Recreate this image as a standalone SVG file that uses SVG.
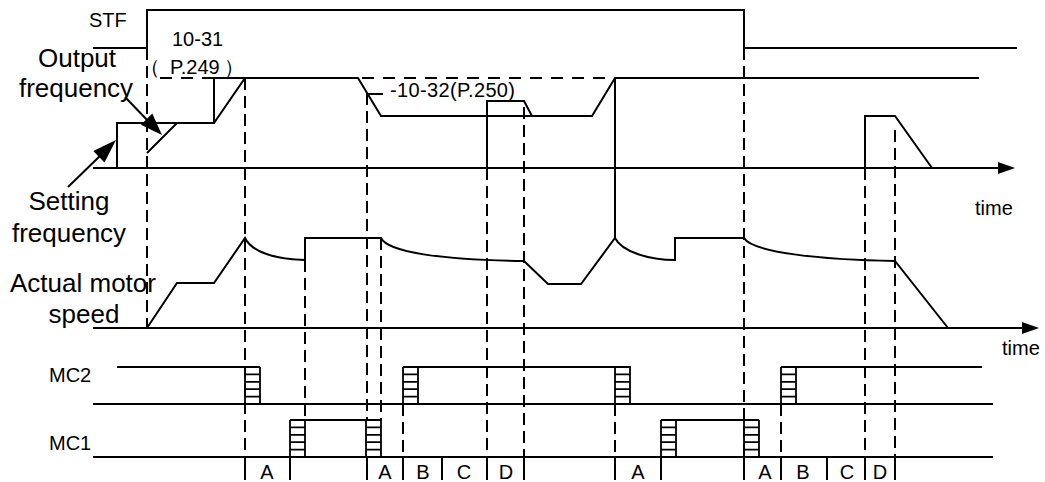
<svg xmlns="http://www.w3.org/2000/svg" xmlns:xlink="http://www.w3.org/1999/xlink" width="1045" height="482" viewBox="0 0 1045 482">
<style>
.ln{fill:none;stroke:#000;stroke-width:2;stroke-linejoin:miter}
.dv{fill:none;stroke:#000;stroke-width:2;stroke-dasharray:12,6}
.dh{fill:none;stroke:#000;stroke-width:2;stroke-dasharray:12,9}
.tk{fill:none;stroke:#000;stroke-width:2}
.hb{fill:none;stroke:#000;stroke-width:1.8}
.t{font-family:"Liberation Sans",Arial,sans-serif;fill:#000}
.big{font-size:26px;text-anchor:middle}
.mid{font-size:20px}
.lab{font-size:20px;text-anchor:middle}
</style>
<defs>
<g id="hatch">
<path class="hb" d="M0,0V37M15,0V37M0,0H15M0,7.4H15M0,14.8H15M0,22.2H15M0,29.6H15M0,37H15"/>
</g>
</defs>
<rect width="1045" height="482" fill="#fff"/>

<g id="labels">
<text class="t mid" x="89" y="27">STF</text>
<text class="t mid" x="172" y="46">10-31</text>
<text class="t mid" y="74" font-family="'Liberation Sans','Noto Sans CJK SC',sans-serif"><tspan x="140">（</tspan><tspan x="170">P.249</tspan><tspan x="224">）</tspan></text>
<text class="t mid" x="390" y="97" font-size="19" textLength="125">-10-32(P.250)</text>
<text class="t big" x="77" y="67">Output</text>
<text class="t big" x="76" y="97">frequency</text>
<text class="t big" x="69" y="210">Setting</text>
<text class="t big" x="69" y="242">frequency</text>
<text class="t big" x="83" y="292">Actual motor</text>
<text class="t big" x="84" y="323">speed</text>
<text class="t mid" x="975" y="215">time</text>
<text class="t mid" x="1002" y="355">time</text>
<text class="t mid" x="49" y="382">MC2</text>
<text class="t mid" x="49" y="450">MC1</text>
</g>

<g id="interval-labels">
<text class="t lab" x="267" y="479">A</text>
<text class="t lab" x="385" y="479">A</text>
<text class="t lab" x="423" y="479">B</text>
<text class="t lab" x="464" y="479">C</text>
<text class="t lab" x="506" y="479">D</text>
<text class="t lab" x="638" y="479">A</text>
<text class="t lab" x="765" y="479">A</text>
<text class="t lab" x="803" y="479">B</text>
<text class="t lab" x="847" y="479">C</text>
<text class="t lab" x="880" y="479">D</text>
</g>

<g id="stf">
<path class="ln" d="M93,48H147V10H744V48H1017"/>
</g>

<g id="axes">
<path class="ln" d="M93,168H1000"/>
<polygon points="1015,168 998,162 998,174" fill="#000"/>
<path class="ln" d="M93,328H1024"/>
<polygon points="1039,328 1022,322 1022,334" fill="#000"/>
</g>

<g id="frequency">
<path class="ln" d="M147,153L177,123L214,123L245,78L358,78L381,116L592,116L615,78L979,78"/>
<path class="ln" d="M117,168V123H214V78H358"/>
<path class="dh" d="M160,78H213"/>
<path class="dh" d="M362,78H613"/>
<path class="ln" d="M615,78V238"/>
<path class="ln" d="M487,168V101H524L532,116"/>
<path class="ln" d="M865,168V116H895L932,168"/>
<path class="tk" d="M368,94H383"/>
</g>

<g id="speed">
<path class="ln" d="M147,328L177,283L214,283L245,238C252,252 275,259 305,260L305,238L381,238C388,252 440,260 524,261L548,284L581,284L615,238C622,252 650,260 675,260L675,238L744,238C752,252 820,260 895,261L948,328"/>
</g>

<g id="mc2">
<path class="ln" d="M93,404H993"/>
<path class="ln" d="M117,367H260M403,367H631M781,367H982"/>
<use xlink:href="#hatch" href="#hatch" x="245" y="367"/>
<use xlink:href="#hatch" href="#hatch" x="403" y="367"/>
<use xlink:href="#hatch" href="#hatch" x="615" y="367"/>
<use xlink:href="#hatch" href="#hatch" x="781" y="367"/>
</g>

<g id="mc1">
<path class="ln" d="M93,457H993"/>
<path class="ln" d="M290,420H381M661,420H759"/>
<use xlink:href="#hatch" href="#hatch" x="290" y="420"/>
<use xlink:href="#hatch" href="#hatch" x="366" y="420"/>
<use xlink:href="#hatch" href="#hatch" x="661" y="420"/>
<use xlink:href="#hatch" href="#hatch" x="744" y="420"/>
</g>

<g id="connectors">
<path class="dv" d="M147,48V328"/>
<path class="dv" d="M245,78V457"/>
<path class="dv" d="M305,260V420"/>
<path class="dv" d="M367,93V420"/>
<path class="dv" d="M381,238V420"/>
<path class="dv" d="M403,404V457"/>
<path class="dv" d="M487,168V457"/>
<path class="dv" d="M524,107V457"/>
<path class="dv" d="M615,404V457"/>
<path class="dv" d="M744,48V457"/>
<path class="dv" d="M781,404V457"/>
<path class="dv" d="M865,168V457"/>
<path class="dv" d="M895,130V457"/>
<path class="tk" d="M245,457V480M290,457V480M367,457V480M403,457V480M442,457V480M487,457V480M524,457V480M615,457V480M661,457V480M744,457V480M781,457V480M827,457V480M865,457V480M895,457V480"/>
<path class="tk" d="M125,97L150,123"/>
<polygon points="162,135 140.9,124.8 152.3,113.6" fill="#000"/>
<path class="tk" d="M68,187L102,154"/>
<polygon points="116,140 104.5,162.5 93.3,151.1" fill="#000"/>
</g>
</svg>
